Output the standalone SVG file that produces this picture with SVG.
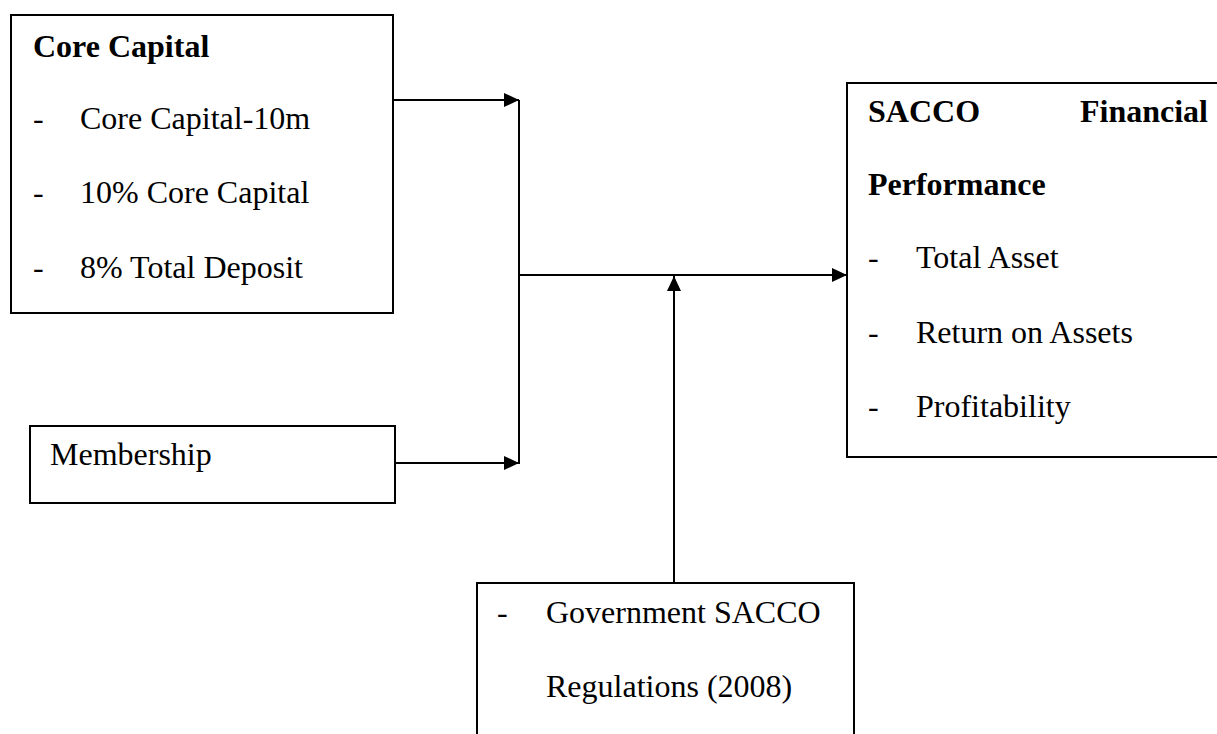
<svg xmlns="http://www.w3.org/2000/svg" width="1217" height="734" viewBox="0 0 1217 734">
<style>
.box{fill:#fff;stroke:#000;stroke-width:2}
.t{font-family:"Liberation Serif","Times New Roman",serif;font-size:32px;fill:#000}
.b{font-weight:bold}
.c{fill:none;stroke:#000;stroke-width:2}
</style>
<defs>
<marker id="ah" markerUnits="userSpaceOnUse" markerWidth="16" markerHeight="14" refX="15" refY="7" orient="auto">
<path d="M0,0 L15,7 L0,14 z" fill="#000"/>
</marker>
</defs>
<rect width="1217" height="734" fill="#fff"/>
<g id="core-capital">
<rect class="box" x="11" y="15" width="382" height="298"/>
<text class="t b" x="33" y="57">Core Capital</text>
<text class="t" x="33" y="129">-</text><text class="t" x="80" y="129">Core Capital-10m</text>
<text class="t" x="33" y="203">-</text><text class="t" x="80" y="203">10% Core Capital</text>
<text class="t" x="33" y="278">-</text><text class="t" x="80" y="278">8% Total Deposit</text>
</g>
<g id="membership">
<rect class="box" x="30" y="426" width="365" height="77"/>
<text class="t" x="50" y="465">Membership</text>
</g>
<g id="sacco-performance">
<rect class="box" x="847" y="83" width="380" height="374"/>
<text class="t b" x="868" y="122">SACCO</text>
<text class="t b" x="1208" y="122" text-anchor="end">Financial</text>
<text class="t b" x="868" y="195">Performance</text>
<text class="t" x="868" y="268">-</text><text class="t" x="916" y="268">Total Asset</text>
<text class="t" x="868" y="343">-</text><text class="t" x="916" y="343">Return on Assets</text>
<text class="t" x="868" y="417">-</text><text class="t" x="916" y="417">Profitability</text>
</g>
<g id="regulations">
<rect class="box" x="477" y="583" width="377" height="170"/>
<text class="t" x="497" y="623">-</text><text class="t" x="546" y="623">Government SACCO</text>
<text class="t" x="546" y="697">Regulations (2008)</text>
</g>
<g id="connectors">
<line class="c" x1="393" y1="100" x2="519" y2="100" marker-end="url(#ah)"/>
<line class="c" x1="395" y1="463" x2="519" y2="463" marker-end="url(#ah)"/>
<line class="c" x1="519" y1="100" x2="519" y2="464"/>
<line class="c" x1="519" y1="275" x2="847" y2="275" marker-end="url(#ah)"/>
<line class="c" x1="674" y1="583" x2="674" y2="276" marker-end="url(#ah)"/>
</g>
</svg>
